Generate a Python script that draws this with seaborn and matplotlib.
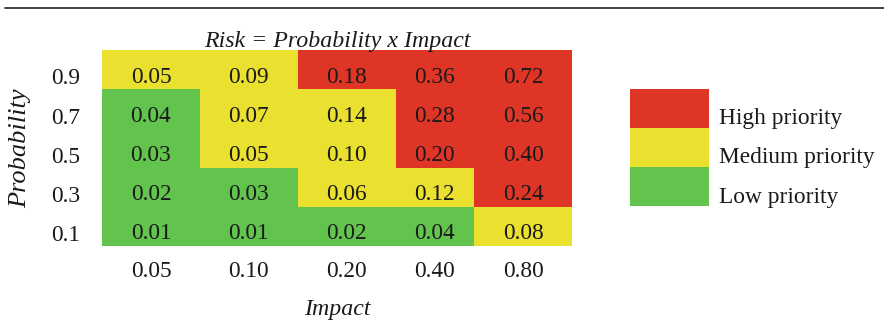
import matplotlib
matplotlib.use("Agg")
import matplotlib.pyplot as plt
import matplotlib.transforms as mtransforms
import seaborn as sns
import numpy as np
import pandas as pd
from matplotlib.colors import ListedColormap
from matplotlib.patches import Patch
from matplotlib.lines import Line2D

# ---- data ----
impact = ["0.05", "0.10", "0.20", "0.40", "0.80"]
probability = ["0.9", "0.7", "0.5", "0.3", "0.1"]
risk = [
    [0.05, 0.09, 0.18, 0.36, 0.72],
    [0.04, 0.07, 0.14, 0.28, 0.56],
    [0.03, 0.05, 0.10, 0.20, 0.40],
    [0.02, 0.03, 0.06, 0.12, 0.24],
    [0.01, 0.01, 0.02, 0.04, 0.08],
]
# priority level: 0 = low, 1 = medium, 2 = high
priority = [
    [1, 1, 2, 2, 2],
    [0, 1, 1, 2, 2],
    [0, 1, 1, 2, 2],
    [0, 0, 1, 1, 2],
    [0, 0, 0, 0, 1],
]
legend_labels = ["High priority", "Medium priority", "Low priority"]

# layout: relative column widths as drawn in the reference (the 0.40 column is narrower)
col_widths = [5, 5, 5, 4, 5]

# ---- style ----
sns.set_theme(style="white")
plt.rcParams["font.family"] = ["Liberation Serif", "DejaVu Serif"]
FS = 16.8
FS_IT = 17.2
TXT = "#1a1a1a"
GREEN, YELLOW, RED = "#62c44d", "#eae02f", "#de3526"
cmap = ListedColormap([GREEN, YELLOW, RED])

fig = plt.figure(figsize=(8.84, 3.36), dpi=100)
ax = fig.add_axes([102 / 884, 90 / 336, 470 / 884, 196 / 336])

level_wide = np.repeat(np.array(priority), col_widths, axis=1)
sns.heatmap(pd.DataFrame(level_wide, index=probability), ax=ax, cmap=cmap,
            vmin=-0.5, vmax=2.5, cbar=False, linewidths=0,
            xticklabels=False, yticklabels=False)

edges = np.concatenate([[0], np.cumsum(col_widths)])
centers = (edges[:-1] + edges[1:]) / 2
ydrop = 0.19  # text sits slightly below the cell middle in the reference

for i, row in enumerate(risk):
    for j, v in enumerate(row):
        ax.text(centers[j], i + 0.5 + ydrop, f"{v:.2f}", ha="center", va="center",
                fontsize=FS, color=TXT)

ax.set_xticks(centers)
ax.set_xticklabels(impact)
ax.set_yticks(np.arange(len(probability)) + 0.5 + ydrop * 0.9)
ax.set_yticklabels(probability)

ax.tick_params(axis="both", length=0, labelsize=FS, colors=TXT)
ax.tick_params(axis="x", pad=11)
ax.tick_params(axis="y", pad=16)
plt.setp(ax.get_yticklabels(), rotation=0)
plt.setp(ax.get_xticklabels(), rotation=0)

ax.set_xlabel("Impact", fontsize=FS_IT, style="italic", color=TXT, labelpad=12)
ax.set_ylabel("Probability", fontsize=19, style="italic", color=TXT, labelpad=14)
ax.set_title("Risk = Probability x Impact", fontsize=FS_IT, style="italic",
             color=TXT, pad=2.5)

handles = [Patch(facecolor=c, edgecolor="none") for c in (RED, YELLOW, GREEN)]
leg = fig.legend(handles, legend_labels, loc="upper left",
                 bbox_to_anchor=(630 / 884, 1 - 89 / 336),
                 frameon=False, fontsize=FS, handlelength=3.4, handleheight=2.2,
                 labelspacing=0, handletextpad=0.42, borderpad=0, borderaxespad=0,
                 labelcolor=TXT)
shift = mtransforms.ScaledTranslation(0, -8.5 / 100, fig.dpi_scale_trans)
for t in leg.get_texts():
    t.set_transform(t.get_transform() + shift)

fig.add_artist(Line2D([5 / 884, 1.0], [1 - 7.5 / 336, 1 - 7.5 / 336],
                      transform=fig.transFigure, color="#333333", lw=1.3))

fig.savefig("out.png", dpi=100)
